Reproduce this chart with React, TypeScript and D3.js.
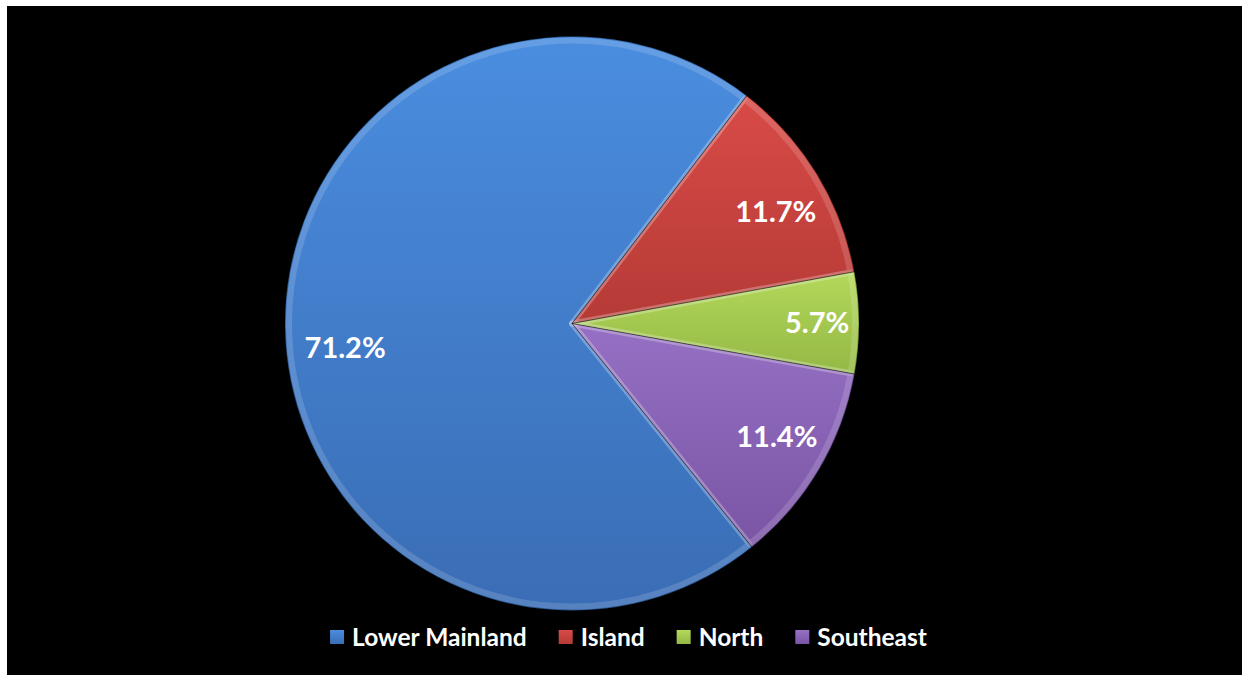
import React, { useEffect, useRef } from "react";
import * as d3 from "d3";

const categories = ["Lower Mainland", "Island", "North", "Southeast"];
const values = [71.2, 11.7, 5.7, 11.4];
const labels = ["71.2%", "11.7%", "5.7%", "11.4%"];
const colorsLight = ["#4a8ddf", "#d84b47", "#b3d85a", "#9670c4"];
const colorsDark = ["#3a6db5", "#b53a36", "#94b845", "#7a55a4"];

const W = 1244;
const H = 675;

export default function App() {
  const ref = useRef<SVGSVGElement | null>(null);

  useEffect(() => {
    const svg = d3.select(ref.current);
    svg.selectAll("*").remove();

    svg.append("rect").attr("x", 7).attr("y", 6).attr("width", 1235).attr("height", 669).attr("fill", "#000");

    const defs = svg.append("defs");
    categories.forEach((c, i) => {
      const g = defs.append("linearGradient").attr("id", "grad" + i).attr("x1", 0).attr("y1", 0).attr("x2", 0).attr("y2", 1);
      g.append("stop").attr("offset", "0%").attr("stop-color", colorsLight[i]);
      g.append("stop").attr("offset", "100%").attr("stop-color", colorsDark[i]);
      const m = defs.append("linearGradient").attr("id", "mk" + i).attr("x1", 0).attr("y1", 0).attr("x2", 0).attr("y2", 1);
      m.append("stop").attr("offset", "0%").attr("stop-color", colorsLight[i]);
      m.append("stop").attr("offset", "100%").attr("stop-color", colorsDark[i]);
    });

    const cx = 572, cy = 323.5, r = 287;
    const startDeg = 37.5 - (values[0] / 100) * 360;
    const start = (startDeg * Math.PI) / 180;
    const pie = d3.pie<number>().sort(null).value((d) => d).startAngle(start).endAngle(start + 2 * Math.PI);
    const arcs = pie(values);
    const arc = d3.arc<d3.PieArcDatum<number>>().innerRadius(0).outerRadius(r);
    const bevel = d3.arc<d3.PieArcDatum<number>>().innerRadius(0).outerRadius(r - 4);

    const gp = svg.append("g").attr("transform", `translate(${cx},${cy})`);
    gp.selectAll("path.s").data(arcs).enter().append("path").attr("class", "s")
      .attr("d", arc as any)
      .attr("fill", (_d, i) => `url(#grad${i})`);
    gp.selectAll("path.b").data(arcs).enter().append("path").attr("class", "b")
      .attr("d", bevel as any)
      .attr("fill", "none")
      .attr("stroke", "rgba(255,255,255,0.15)")
      .attr("stroke-width", 6)
      .attr("stroke-linejoin", "round");
    gp.selectAll("path.o").data(arcs).enter().append("path").attr("class", "o")
      .attr("d", arc as any)
      .attr("fill", "none")
      .attr("stroke", "rgba(0,0,0,0.3)")
      .attr("stroke-width", 1);

    const labelR = [0.795, 0.81, 0.854, 0.815];
    const labelShiftDeg = [-5.5, 2.7, 0, -1.8];
    gp.selectAll("text.l").data(arcs).enter().append("text").attr("class", "l")
      .attr("transform", (d, i) => {
        const a = (d.startAngle + d.endAngle) / 2 + (labelShiftDeg[i] * Math.PI) / 180;
        const rr = r * labelR[i];
        return `translate(${Math.sin(a) * rr},${-Math.cos(a) * rr})`;
      })
      .attr("text-anchor", "middle")
      .attr("dy", "0.36em")
      .attr("fill", "#fff")
      .attr("font-family", "Lato, 'Open Sans', sans-serif")
      .attr("font-weight", 700)
      .attr("font-size", 29)
      .text((_d, i) => labels[i]);

    // legend
    const lg = svg.append("g");
    const items = lg.selectAll("g.it").data(categories).enter().append("g").attr("class", "it");
    items.append("rect").attr("width", 14).attr("height", 14).attr("y", -7).attr("fill", (_d, i) => `url(#mk${i})`);
    items.append("text").attr("x", 22).attr("dy", "0.36em").attr("fill", "#fff")
      .attr("font-family", "Lato, 'Open Sans', sans-serif").attr("font-weight", 700).attr("font-size", 24.5)
      .text((d) => d);
    const widths: number[] = [];
    items.each(function () {
      const t = d3.select(this).select("text").node() as SVGTextElement;
      widths.push(22 + t.getComputedTextLength());
    });
    const gap = 32;
    const total = widths.reduce((a, b) => a + b, 0) + gap * (widths.length - 1);
    let x = 628.5 - total / 2;
    items.attr("transform", (_d, i) => {
      const tx = x;
      x += widths[i] + gap;
      return `translate(${tx},637)`;
    });
  }, []);

  return (
    <svg ref={ref} width={W} height={H} style={{ position: "absolute", left: 0, top: 0 }} />
  );
}
